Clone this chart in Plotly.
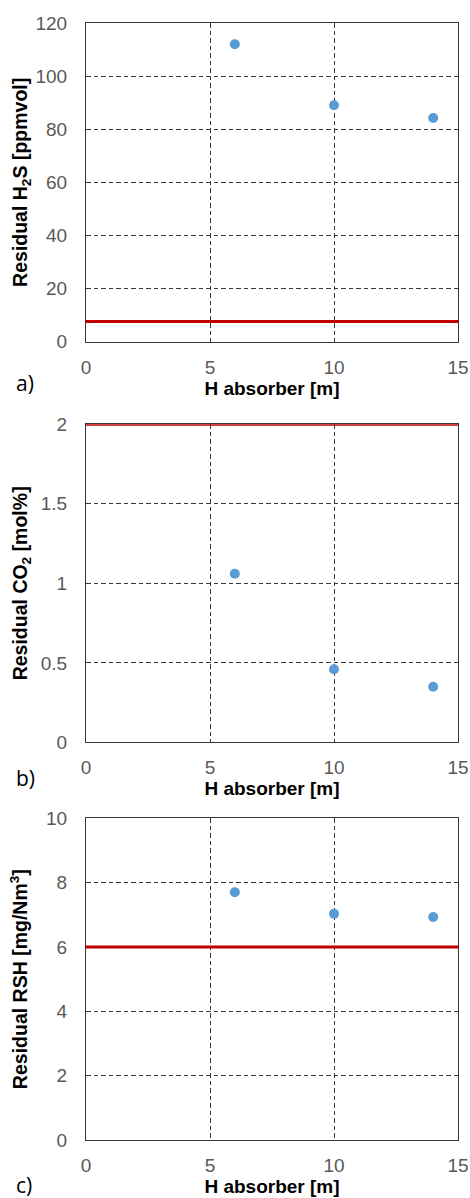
import plotly.graph_objects as go

# Data
h_absorber = [6, 10, 14]
h2s_residual = [112, 89, 84.2]
co2_residual = [1.06, 0.46, 0.35]
rsh_residual = [7.7, 7.03, 6.93]
h2s_limit = 7.6
co2_limit = 2.0
rsh_limit = 6.0
x_range = [0, 15]

y_titles = ["Residual H<sub>2</sub>S [ppmvol]",
            "Residual CO<sub>2</sub> [mol%]",
            "Residual RSH [mg/Nm<sup>3</sup>]"]
y_ranges = [[0, 120], [0, 2], [0, 10]]
y_dticks = [20, 0.5, 2]
panel_labels = ["a)", "b)", "c)"]

series = [h2s_residual, co2_residual, rsh_residual]
limits = [h2s_limit, co2_limit, rsh_limit]

domains = [[0.7147, 1.0], [0.3560, 0.6407], [0.0, 0.2880]]
y_standoffs = [2.5, 7.8, 12.8]

fig = go.Figure()

FONT = "Liberation Sans, Arial, sans-serif"
GRID = "#383838"
DASH = "4.5px,3px"

for i in range(3):
    xa = "x" if i == 0 else f"x{i+1}"
    ya = "y" if i == 0 else f"y{i+1}"
    fig.add_trace(go.Scatter(
        x=x_range, y=[limits[i], limits[i]], mode="lines",
        line=dict(color="#C00000", width=3), xaxis=xa, yaxis=ya,
        cliponaxis=False, showlegend=False, hoverinfo="skip"))
    fig.add_trace(go.Scatter(
        x=h_absorber, y=series[i], mode="markers",
        marker=dict(color="#5B9BD5", size=10), xaxis=xa, yaxis=ya,
        cliponaxis=False, showlegend=False))

    xkey = "xaxis" if i == 0 else f"xaxis{i+1}"
    ykey = "yaxis" if i == 0 else f"yaxis{i+1}"
    fig.update_layout(**{
        xkey: dict(
            domain=[0, 1], anchor=ya, range=x_range, dtick=5,
            showgrid=True, gridcolor=GRID, griddash=DASH, gridwidth=1.2,
            showline=True, linecolor=GRID, linewidth=1.2, mirror=True,
            zeroline=False, ticks="", ticklabelstandoff=8, automargin=False,
            tickfont=dict(family=FONT, size=19, color="#595959"),
            title=dict(text="<b>H absorber [m]</b>", standoff=4,
                       font=dict(family=FONT, size=19, color="#000000")),
            layer="below traces"),
        ykey: dict(
            domain=domains[i], anchor=xa, range=y_ranges[i], dtick=y_dticks[i],
            showgrid=True, gridcolor=GRID, griddash=DASH, gridwidth=1.2,
            showline=True, linecolor=GRID, linewidth=1.2, mirror=True,
            zeroline=False, ticks="", ticklabelstandoff=14, automargin=False,
            tickfont=dict(family=FONT, size=19, color="#595959"),
            title=dict(text="<b>" + y_titles[i] + "</b>", standoff=y_standoffs[i],
                       font=dict(family=FONT, size=19.5, color="#000000")),
            layer="below traces"),
    })

label_y = [383, 778, 1185]
for lab, yy in zip(panel_labels, label_y):
    fig.add_annotation(
        text=lab, xref="paper", yref="paper",
        x=(14 - 86) / 372, y=(1140 - yy) / 1117,
        xanchor="left", yanchor="middle", showarrow=False,
        font=dict(family="Open Sans, sans-serif", size=21, color="#000000"))

fig.update_layout(
    width=470, height=1198,
    margin=dict(l=86, r=12, t=23, b=58, autoexpand=False),
    paper_bgcolor="white", plot_bgcolor="white",
    showlegend=False,
)

fig.write_html(
    "out.html",
    config={"displayModeBar": False},
    post_script=("document.documentElement.style.margin='0';"
                 "document.body.style.margin='0';"
                 "document.body.style.overflow='hidden';"
                 "document.documentElement.style.overflow='hidden';"),
)
